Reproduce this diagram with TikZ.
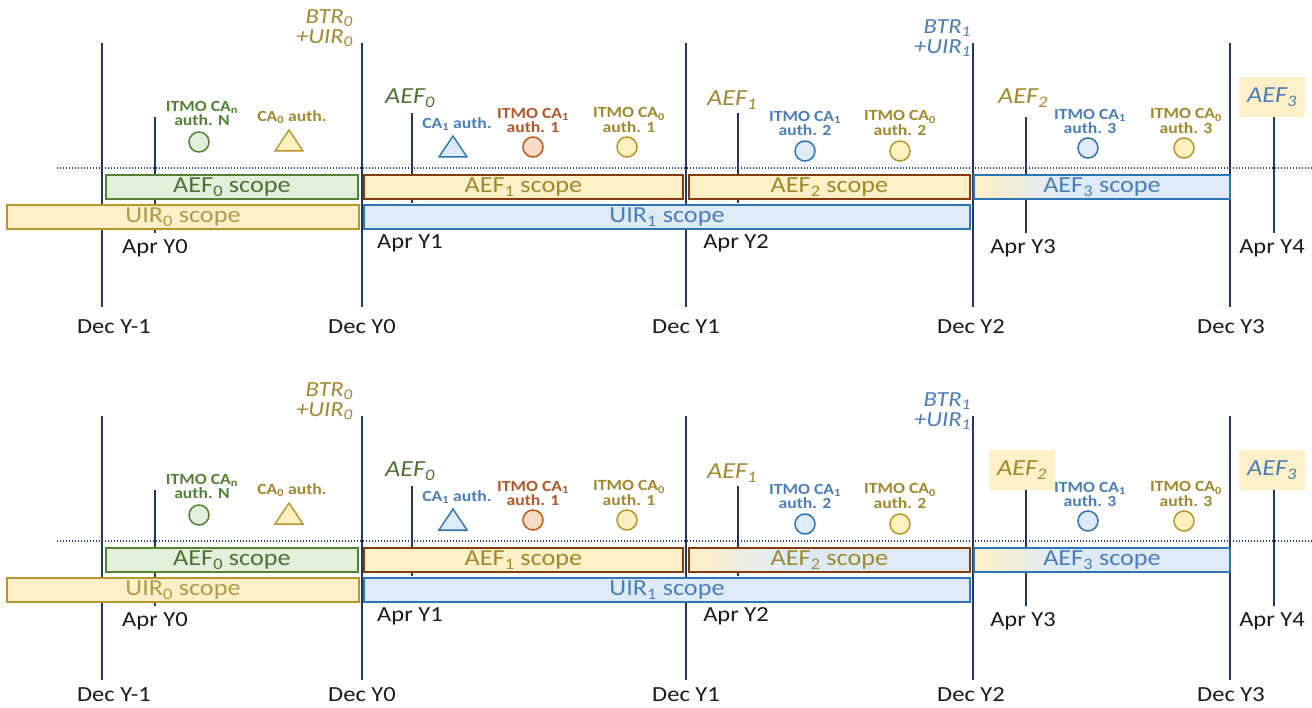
\documentclass[tikz,border=0pt]{standalone}
\usepackage{fontspec}
\setmainfont{Carlito}[FakeStretch=1.14]
\definecolor{navy}{HTML}{1F3864}
\definecolor{gtext}{HTML}{4F7134}
\definecolor{gline}{HTML}{548235}
\definecolor{gfill}{HTML}{E2EFDA}
\definecolor{otext}{HTML}{A2882C}
\definecolor{oline}{HTML}{B8962A}
\definecolor{ofill}{HTML}{FDEFC8}
\definecolor{brline}{HTML}{843C0C}
\definecolor{rtext}{HTML}{B0582A}
\definecolor{rline}{HTML}{C55A11}
\definecolor{rfill}{HTML}{FADBC8}
\definecolor{btext}{HTML}{4A7EBB}
\definecolor{bline}{HTML}{2E75B6}
\definecolor{bfill}{HTML}{DEEBF7}
\definecolor{yfill}{HTML}{FFF0C0}
\pgfdeclarehorizontalshading{aefgrad}{100bp}{color(0bp)=(ofill); color(26bp)=(ofill); color(42bp)=(bfill); color(100bp)=(bfill)}
\tikzset{
  decline/.style={navy, line width=1.6pt},
  dotline/.style={navy, line width=1.3pt, dash pattern=on 1.4pt off 1.6pt},
  datelab/.style={font=\fontsize{21.5}{21.5}\selectfont, text=black!90, inner sep=0},
  scopebox/.style={line width=2pt, minimum height=24, inner sep=0, font=\fontsize{23}{23}\selectfont},
  eflab/.style={font=\fontsize{23}{23}\selectfont\itshape, inner sep=0},
  btrlab/.style={font=\fontsize{21.5}{20}\selectfont\itshape, align=right, inner sep=0, anchor=east},
  smallab/.style={font=\fontsize{15.5}{13}\selectfont\bfseries, align=center, inner sep=0},
  mcirc/.style={circle, line width=1.5pt, minimum size=20, inner sep=0},
  mtri/.style={line width=1.5pt, line join=miter},
  hilite/.style={fill=ofill, minimum width=66, minimum height=40}
}
\newcommand\drawpanel[4]{%
\begin{scope}[shift={(0,#2)}]
  % dotted line
  \coordinate (#1dotA) at (57,168);
  \coordinate (#1dotB) at (1312,168);
  \draw[dotline] (#1dotA) -- (#1dotB);
  % Dec lines
  \foreach \n/\xx in {m1/102, 0/362, 1/686, 2/973, 3/1230}{
    \coordinate (#1dectop\n) at (\xx,43);
    \coordinate (#1decbot\n) at (\xx,307);
    \draw[decline] (#1dectop\n) -- (#1decbot\n);
  }
  % Apr lines
  \foreach \n/\xx/\ya/\yb in {0/155/117/233, 1/412/113/203, 2/738/113/203, 3/1026/117/233, 4/1274/117/233}{
    \coordinate (#1aprtop\n) at (\xx,\ya);
    \coordinate (#1aprbot\n) at (\xx,\yb);
    \draw[decline] (#1aprtop\n) -- (#1aprbot\n);
  }
  % scope boxes
  \node[scopebox, draw=gline, fill=gfill, text=gtext, minimum width=252] (#1s0) at (232,187) {AEF\textsubscript{0} scope};
  \node[scopebox, draw=oline, fill=ofill, text=otext!85, minimum width=352] (#1u0) at (183,217) {UIR\textsubscript{0} scope};
  \node[scopebox, draw=brline, fill=ofill, text=otext, minimum width=319] (#1s1) at (523.5,187) {AEF\textsubscript{1} scope};
  \node[scopebox, draw=bline, fill=bfill, text=btext, minimum width=606] (#1u1) at (667,217) {UIR\textsubscript{1} scope};
  \ifnum#3=1
    \node[scopebox, draw=brline, shading=aefgrad, text=otext, minimum width=281] (#1s2) at (829.5,187) {AEF\textsubscript{2} scope};
  \else
    \node[scopebox, draw=brline, fill=ofill, text=otext, minimum width=281] (#1s2) at (829.5,187) {AEF\textsubscript{2} scope};
  \fi
  \node[scopebox, draw=bline, shading=aefgrad, text=btext, minimum width=256] (#1s3) at (1102,187) {AEF\textsubscript{3} scope};
  % date labels
  \node[datelab] (#1decl0) at (114,#4) {Dec Y-1};
  \node[datelab] (#1decl1) at (362,#4) {Dec Y0};
  \node[datelab] (#1decl2) at (686,#4) {Dec Y1};
  \node[datelab] (#1decl3) at (971,#4) {Dec Y2};
  \node[datelab] (#1decl4) at (1231,#4) {Dec Y3};
  \node[datelab] (#1aprl0) at (155,248) {Apr Y0};
  \node[datelab] (#1aprl1) at (410,243) {Apr Y1};
  \node[datelab] (#1aprl2) at (736,243) {Apr Y2};
  \node[datelab] (#1aprl3) at (1023,248) {Apr Y3};
  \node[datelab] (#1aprl4) at (1272,248) {Apr Y4};
  % BTR labels
  \node[btrlab, text=otext] (#1btr0) at (353,28) {BTR\textsubscript{0}\\+UIR\textsubscript{0}};
  \node[btrlab, text=btext] (#1btr1) at (971,38) {BTR\textsubscript{1}\\+UIR\textsubscript{1}};
  % AEF labels
  \node[eflab, text=gtext] (#1aef0) at (410,98) {AEF\textsubscript{0}};
  \node[eflab, text=otext] (#1aef1) at (732,100) {AEF\textsubscript{1}};
  \ifnum#3=1
    \node[eflab, hilite, text=otext] (#1aef2) at (1022,97) {AEF\textsubscript{2}};
  \else
    \node[eflab, text=otext] (#1aef2) at (1023,98) {AEF\textsubscript{2}};
  \fi
  \node[eflab, hilite, text=btext] (#1aef3) at (1272,97) {AEF\textsubscript{3}};
  % markers
  \node[smallab, text=gline] (#1tn) at (202,113) {ITMO CA\textsubscript{n}\\auth. N};
  \node[mcirc, draw=gline, fill=gfill] (#1cn) at (199,142) {};
  \node[smallab, text=otext] (#1t0) at (292,117) {CA\textsubscript{0} auth.};
  \draw[mtri, draw=oline, fill=yfill] (289,130) -- (303,151) -- (275,151) -- cycle;
  \node[smallab, text=btext] (#1t1) at (457,124) {CA\textsubscript{1} auth.};
  \draw[mtri, draw=bline, fill=bfill] (453,136) -- (467,157) -- (439,157) -- cycle;
  \node[smallab, text=rtext] (#1ti11) at (533,120) {ITMO CA\textsubscript{1}\\auth. 1};
  \node[mcirc, draw=rline, fill=rfill] (#1ci11) at (533,147) {};
  \node[smallab, text=otext] (#1ti01) at (629,120) {ITMO CA\textsubscript{0}\\auth. 1};
  \node[mcirc, draw=oline, fill=yfill] (#1ci01) at (627,147) {};
  \node[smallab, text=btext] (#1ti12) at (805,123) {ITMO CA\textsubscript{1}\\auth. 2};
  \node[mcirc, draw=bline, fill=bfill] (#1ci12) at (805,151) {};
  \node[smallab, text=otext] (#1ti02) at (900,123) {ITMO CA\textsubscript{0}\\auth. 2};
  \node[mcirc, draw=oline, fill=yfill] (#1ci02) at (900,151) {};
  \node[smallab, text=btext] (#1ti13) at (1090,121) {ITMO CA\textsubscript{1}\\auth. 3};
  \node[mcirc, draw=bline, fill=bfill] (#1ci13) at (1088,148) {};
  \node[smallab, text=otext] (#1ti03) at (1186,121) {ITMO CA\textsubscript{0}\\auth. 3};
  \node[mcirc, draw=oline, fill=yfill] (#1ci03) at (1184,148) {};
\end{scope}}
\begin{document}
\begin{tikzpicture}[x=1pt,y=-1pt]
  \useasboundingbox (0,0) rectangle (1312,708);
  \fill[white] (0,0) rectangle (1312,708);
  \drawpanel{A}{0}{0}{327}
  \drawpanel{B}{373}{1}{322}
\end{tikzpicture}
\end{document}
